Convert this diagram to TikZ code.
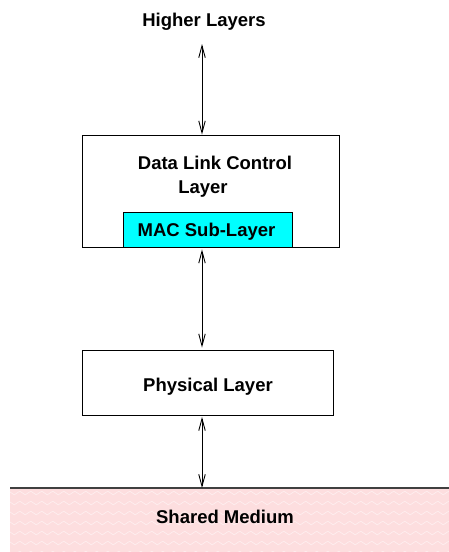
\documentclass[tikz,border=0pt]{standalone}
\usepackage{fontspec}
\setmainfont{Liberation Sans}
\usetikzlibrary{arrows.meta,decorations.pathmorphing}
\definecolor{mediumpink}{RGB}{253,222,223}
\definecolor{maccyan}{RGB}{0,255,255}
\tikzset{
  lbl/.style={font=\bfseries\fontsize{18.5}{22}\selectfont, inner sep=0pt, anchor=base},
  layerbox/.style={draw=black, line width=0.9pt, rectangle, inner sep=0pt},
  dbl/.style={line width=0.9pt, {Straight Barb[length=12pt,width=6.5pt]}-{Straight Barb[length=12pt,width=6.5pt]}},
}
\begin{document}
\begin{tikzpicture}[x=1pt,y=-1pt]
  \useasboundingbox (0,0) rectangle (449,552);

  % shared medium band with its faint zigzag texture
  \fill[mediumpink] (10,488) rectangle (449,552);
  \begin{scope}
    \clip (10,489) rectangle (449,552);
    \foreach \r in {0,...,6}{
      \draw[white, line width=0.6pt, opacity=0.55,
            decorate, decoration={zigzag, segment length=11pt, amplitude=1.8pt}]
        (6,{493+10*\r}) -- (455,{493+10*\r});
    }
  \end{scope}
  \draw[line width=1.4pt, black!75] (10,488) coordinate (medtopl) -- (449,488) coordinate (medtopr);
  \node[lbl] (medium) at (225,523) {Shared Medium};

  % layer boxes
  \node[lbl] (higher) at (204,26) {Higher Layers};
  \node[layerbox, minimum width=257pt, minimum height=112pt] (dlc) at (210.5,191) {};
  \node[lbl] (dlcA) at (215,169) {Data Link Control};
  \node[lbl] (dlcB) at (203,193) {Layer};
  \node[layerbox, fill=maccyan, minimum width=169pt, minimum height=35pt] (mac) at (207.5,229.5) {};
  \node[lbl] (macT) at (206.5,236) {MAC Sub-Layer};
  \node[layerbox, minimum width=251pt, minimum height=65pt] (phys) at (207.5,382.5) {};
  \node[lbl] (physT) at (208,391) {Physical Layer};

  % vertical links between layers
  \coordinate (axis) at (202,0);
  \coordinate (medtop) at (202,488);
  \coordinate (a1) at (202,44);
  \draw[dbl] (a1) -- (dlc.north -| axis);
  \draw[dbl, shorten <=2pt, shorten >=2pt] (dlc.south -| axis) -- (phys.north -| axis);
  \draw[dbl, shorten <=1.5pt] (phys.south -| axis) -- (medtop);
\end{tikzpicture}
\end{document}
